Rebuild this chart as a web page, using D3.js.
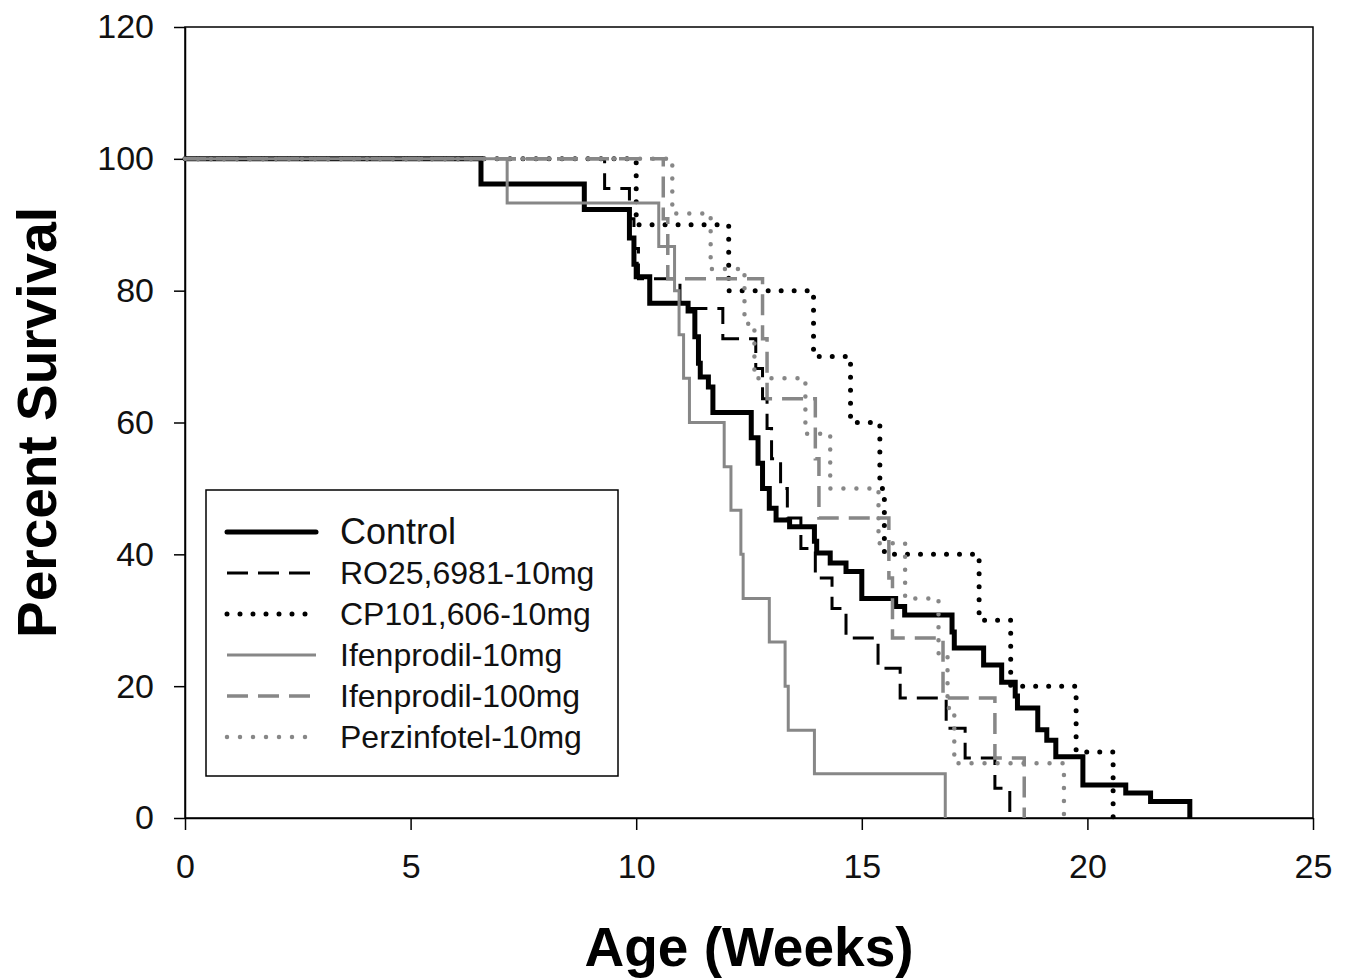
<!DOCTYPE html>
<html>
<head>
<meta charset="utf-8">
<script src="https://cdn.jsdelivr.net/npm/d3@7"></script>
<style>
  body { margin: 0; background: #fff; }
  svg { display: block; font-family: "Liberation Sans", Arial, sans-serif; }
</style>
</head>
<body>
<svg id="chart" width="1350" height="980"></svg>
<script>
// Kaplan-Meier steps: [week, percent survival from that week on]
const control = [[0,100],[6.56,96.2],[8.85,92.3],[9.85,88],[9.95,84],[10.0,82.1],[10.3,78.1],
  [11.15,76.9],[11.3,73],[11.38,69],[11.42,66.9],[11.6,65.4],[11.7,61.5],[12.55,57.7],[12.7,53.8],
  [12.8,50],[12.95,47],[13.1,45.2],[13.4,44.2],[13.95,42],[14.0,40.2],[14.3,38.7],[14.65,37.4],
  [15.0,33.3],[15.75,32.1],[15.95,30.8],[17.0,28.2],[17.05,25.8],[17.7,23.2],[18.1,20.6],
  [18.4,18.5],[18.45,16.7],[18.9,13.4],[19.1,11.8],[19.3,9.3],[19.9,5.0],[20.85,3.8],[21.4,2.5],
  [22.27,0]];
const ro25 = [[0,100],[9.3,95.5],[9.85,90.9],[9.95,86.4],[10.05,81.8],[10.97,77.3],[11.92,72.7],
  [12.65,68.2],[12.8,63.6],[12.9,59.1],[13.0,54.5],[13.2,50],[13.35,45.5],[13.65,40.9],[13.97,36.4],
  [14.34,31.8],[14.65,27.3],[15.36,22.7],[15.85,18.2],[16.87,13.6],[17.29,9.1],[17.95,4.5],[18.28,0]];
const cp101 = [[0,100],[10.0,90],[12.05,80],[13.93,70],[14.75,60],[15.4,50],[15.5,40],[17.6,30],
  [18.3,20],[19.75,10],[20.57,0]];
const ifen10 = [[0,100],[7.14,93.3],[10.5,86.7],[10.85,80],[10.95,73.3],[11.05,66.7],[11.18,60],
  [11.95,53.3],[12.1,46.7],[12.32,40],[12.37,33.3],[12.95,26.7],[13.3,20],[13.37,13.3],[13.95,6.7],
  [16.85,0]];
const ifen100 = [[0,100],[10.6,90.9],[10.7,81.8],[12.8,72.7],[12.9,63.6],[13.97,54.5],[14.05,45.5],
  [15.6,36.4],[15.68,27.3],[16.8,18.2],[17.95,9.1],[18.6,0]];
const perz = [[0,100],[10.8,91.7],[11.65,83.3],[12.4,75],[12.62,66.7],[13.75,58.3],[14.3,50],
  [15.37,41.7],[15.96,33.3],[16.7,25],[16.9,16.7],[17.05,8.3],[19.48,0]];

const seriesNames = ["Control", "RO25,6981-10mg", "CP101,606-10mg", "Ifenprodil-10mg", "Ifenprodil-100mg", "Perzinfotel-10mg"];
const weekTicks = [0, 5, 10, 15, 20, 25];
const percentTicks = [0, 20, 40, 60, 80, 100, 120];

const gray = "#878787";
const styles = [
  { color: "#000", width: 5, dash: null, cap: "butt" },
  { color: "#000", width: 3, dash: "21 10", cap: "butt" },
  { color: "#000", width: 5, dash: "0 13", cap: "round" },
  { color: gray, width: 3, dash: null, cap: "butt" },
  { color: gray, width: 3.5, dash: "21 10", cap: "butt" },
  { color: gray, width: 4.5, dash: "0 13", cap: "round" }
];
const allSeries = [control, ro25, cp101, ifen10, ifen100, perz];

const svg = d3.select("#chart");
const plotLeft = 185, plotRight = 1313, plotTop = 27, plotBottom = 818;

const x = d3.scaleLinear().domain([0, 25]).range([plotLeft, plotRight]);
const y = d3.scaleLinear().domain([0, 120]).range([plotBottom, plotTop]);

// frame
svg.append("rect")
  .attr("x", plotLeft).attr("y", plotTop)
  .attr("width", plotRight - plotLeft).attr("height", plotBottom - plotTop)
  .attr("fill", "none").attr("stroke", "#000").attr("stroke-width", 1.5);

const xAxis = svg.append("g")
  .attr("transform", `translate(0,${plotBottom})`)
  .call(d3.axisBottom(x).tickValues(weekTicks).tickSize(12).tickPadding(24).tickSizeOuter(0));
const yAxis = svg.append("g")
  .attr("transform", `translate(${plotLeft},0)`)
  .call(d3.axisLeft(y).tickValues(percentTicks).tickSize(11).tickPadding(20).tickSizeOuter(0));

[xAxis, yAxis].forEach(a => {
  a.select(".domain").attr("stroke", "#000").attr("stroke-width", 1.5);
  a.selectAll(".tick line").attr("stroke", "#000").attr("stroke-width", 1.5);
  a.selectAll(".tick text")
    .attr("fill", "#111")
    .style("font-size", "34px")
    .style("font-family", "'Liberation Sans', Arial, sans-serif");
});

// survival curves
const line = d3.line()
  .x(d => x(d[0]))
  .y(d => y(d[1]))
  .curve(d3.curveStepAfter);

allSeries.forEach((data, i) => {
  const s = styles[i];
  svg.append("path")
    .datum(data)
    .attr("d", line)
    .attr("fill", "none")
    .attr("stroke", s.color)
    .attr("stroke-width", s.width)
    .attr("stroke-dasharray", s.dash)
    .attr("stroke-linecap", s.cap)
    .attr("stroke-linejoin", "miter");
});

// axis titles
svg.append("text")
  .attr("x", (plotLeft + plotRight) / 2).attr("y", 966)
  .attr("text-anchor", "middle")
  .style("font-size", "55px").style("font-weight", "bold")
  .text("Age (Weeks)");

svg.append("text")
  .attr("transform", `translate(56,${(plotTop + plotBottom) / 2}) rotate(-90)`)
  .attr("text-anchor", "middle")
  .style("font-size", "55px").style("font-weight", "bold")
  .text("Percent Survival");

// legend
const legend = svg.append("g");
legend.append("rect")
  .attr("x", 206).attr("y", 490).attr("width", 412).attr("height", 286)
  .attr("fill", "#fff").attr("stroke", "#000").attr("stroke-width", 1.5);

seriesNames.forEach((name, i) => {
  const s = styles[i];
  const ry = 532 + i * 41;
  legend.append("line")
    .attr("x1", 227).attr("x2", 316)
    .attr("y1", ry).attr("y2", ry)
    .attr("stroke", s.color)
    .attr("stroke-width", s.width)
    .attr("stroke-dasharray", s.dash)
    .attr("stroke-linecap", i === 0 ? "round" : s.cap);
  legend.append("text")
    .attr("x", 340).attr("y", ry + (i === 0 ? 12 : 11))
    .style("font-size", i === 0 ? "36px" : "32px")
    .attr("fill", "#111")
    .text(name);
});
</script>
</body>
</html>
